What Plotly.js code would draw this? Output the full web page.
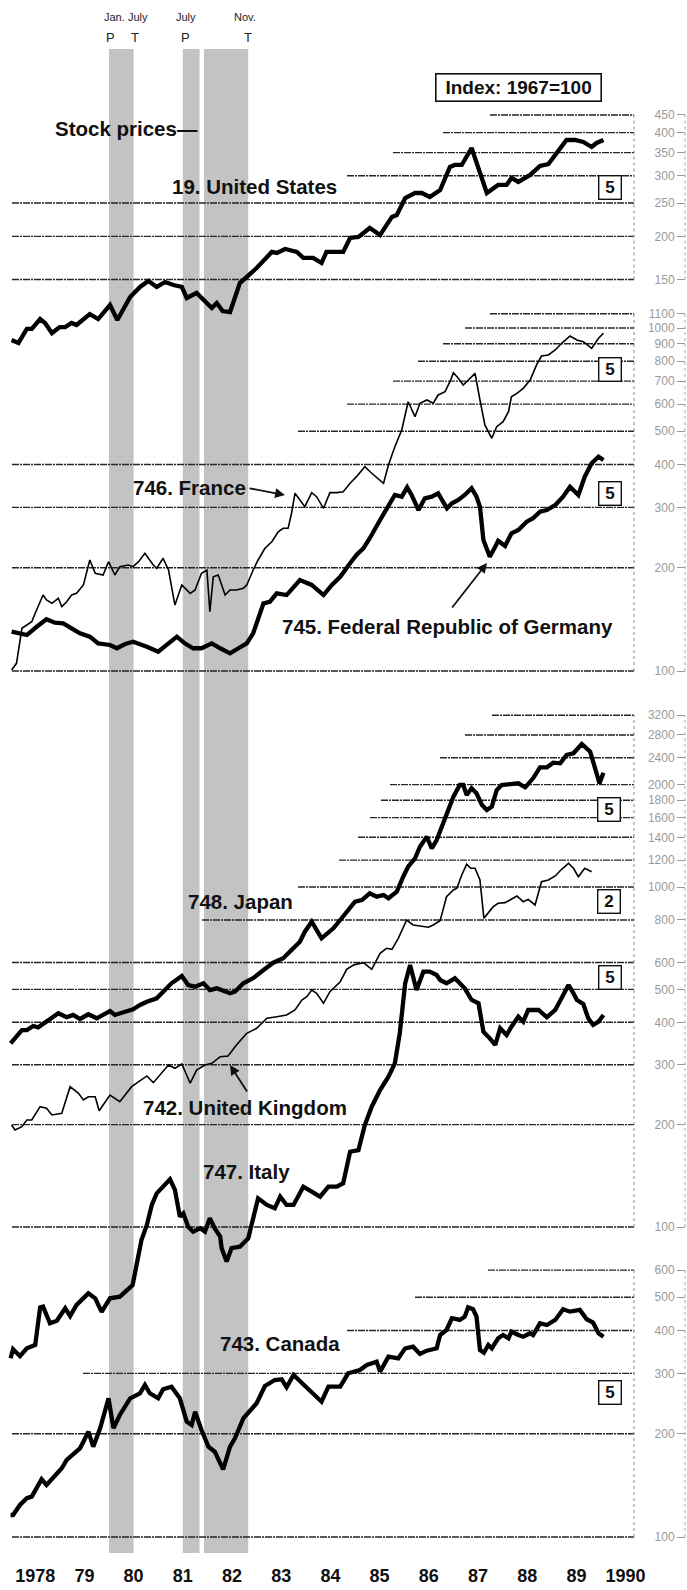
<!DOCTYPE html>
<html>
<head>
<meta charset="utf-8">
<script src="https://cdn.plot.ly/plotly-3.0.1.min.js"></script>
<style>html,body{margin:0;padding:0;background:#fff;}#chart{width:687px;height:1590px;}</style>
</head>
<body>
<div id="chart"></div>
<script>
// ---------------- DATA ----------------
const years = [1978,1979,1980,1981,1982,1983,1984,1985,1986,1987,1988,1989,1990];
const yearLabels = ['1978','79','80','81','82','83','84','85','86','87','88','89','1990'];

// Business-cycle reference dates (P = peak, T = trough)
const peakDates = [1980.0, 1981.5];
const peakMonths = ['Jan.', 'July'];
const troughDates = [1980.5, 1982.83];
const troughMonths = ['July', 'Nov.'];

// 19. United States
const usT = [1978.02,1978.16,1978.33,1978.43,1978.60,1978.70,1978.84,1979.00,1979.11,1979.24,1979.34,1979.61,1979.78,1980.02,1980.17,1980.43,1980.63,1980.80,1980.97,1981.14,1981.31,1981.48,1981.58,1981.78,1982.09,1982.19,1982.31,1982.46,1982.66,1983.00,1983.31,1983.41,1983.58,1983.82,1983.95,1984.15,1984.32,1984.42,1984.56,1984.76,1984.90,1985.07,1985.30,1985.51,1985.75,1985.85,1986.02,1986.22,1986.36,1986.52,1986.73,1986.93,1987.03,1987.17,1987.37,1987.68,1987.91,1988.08,1988.18,1988.32,1988.56,1988.76,1988.93,1989.10,1989.30,1989.47,1989.64,1989.81,1989.91,1990.05];
const usV = [100.1,98.2,107.8,107.8,115.2,112.2,104.9,109.2,109.2,112.2,110.7,119.1,115.2,126.5,114.4,133.5,142.7,148.5,142.7,147.5,144.6,142.7,132.6,137.1,124.0,128.2,121.5,120.7,146.5,162.0,180.3,179.1,183.9,180.3,173.2,173.2,167.5,180.3,180.3,180.3,198.0,199.3,211.6,202.0,227.8,230.8,258.5,267.3,267.3,260.3,272.7,318.0,322.3,322.3,361.0,267.3,282.0,282.0,295.5,287.7,301.5,320.1,324.4,349.1,380.8,380.8,375.7,363.4,373.3,380.8];

// 746. France
const frT = [1978.02,1978.12,1978.23,1978.43,1978.50,1978.60,1978.66,1978.73,1978.84,1978.97,1979.04,1979.14,1979.24,1979.34,1979.48,1979.61,1979.72,1979.88,1979.99,1980.12,1980.22,1980.39,1980.49,1980.60,1980.73,1980.90,1980.97,1981.10,1981.21,1981.34,1981.48,1981.65,1981.75,1981.88,1981.99,1982.05,1982.12,1982.22,1982.36,1982.46,1982.59,1982.73,1982.80,1982.93,1983.03,1983.17,1983.31,1983.44,1983.54,1983.64,1983.71,1983.78,1983.88,1983.98,1984.12,1984.22,1984.36,1984.49,1984.63,1984.76,1984.90,1985.03,1985.20,1985.34,1985.58,1985.68,1985.81,1985.95,1986.08,1986.22,1986.32,1986.46,1986.59,1986.69,1986.83,1986.93,1987.00,1987.10,1987.20,1987.30,1987.44,1987.54,1987.64,1987.78,1987.88,1988.01,1988.12,1988.18,1988.29,1988.42,1988.56,1988.69,1988.79,1988.93,1989.07,1989.20,1989.37,1989.51,1989.64,1989.81,1989.95,1990.05];
const frV = [100.7,105.3,133.2,139.2,147.3,159.2,166.5,161.1,157.5,162.9,154.0,159.2,166.5,168.4,178.2,210.7,192.7,190.5,208.3,190.5,201.4,203.7,201.4,208.3,220.3,203.7,199.3,213.1,197.0,155.7,178.2,168.4,172.3,192.7,197.0,148.9,188.3,190.5,166.5,172.3,172.3,174.2,178.2,197.0,210.7,227.9,238.2,254.7,260.6,260.6,288.3,329.7,315.2,301.3,331.1,322.3,298.1,331.1,331.1,333.3,352.5,368.6,394.1,377.1,352.5,398.6,450.8,504.2,609.7,551.3,603.3,616.7,603.3,637.9,652.2,697.3,740.7,713.6,682.2,705.5,737.6,616.7,521.5,476.9,515.5,533.1,570.2,630.5,645.0,667.1,705.5,780.3,828.6,834.2,862.7,902.5,947.7,922.6,912.3,872.6,933.3,965.0];

// 745. Federal Republic of Germany
const deT = [1978.02,1978.19,1978.33,1978.53,1978.73,1978.90,1979.07,1979.24,1979.41,1979.61,1979.78,1980.02,1980.16,1980.33,1980.49,1980.77,1981.00,1981.21,1981.38,1981.54,1981.71,1981.88,1982.09,1982.26,1982.46,1982.63,1982.80,1982.93,1983.14,1983.27,1983.41,1983.61,1983.88,1984.12,1984.36,1984.53,1984.70,1984.90,1985.03,1985.17,1985.30,1985.51,1985.68,1985.81,1985.95,1986.06,1986.15,1986.29,1986.42,1986.56,1986.69,1986.87,1986.97,1987.10,1987.23,1987.37,1987.47,1987.54,1987.61,1987.74,1987.85,1987.91,1988.05,1988.18,1988.32,1988.49,1988.62,1988.76,1988.90,1989.07,1989.23,1989.37,1989.54,1989.67,1989.81,1989.95,1990.05];
const deV = [130.2,128.8,127.3,134.6,141.5,138.3,137.7,133.2,128.8,125.9,120.4,119.1,116.5,119.9,121.7,117.7,113.8,120.4,125.9,120.4,116.5,116.5,120.4,116.5,112.6,116.5,120.4,128.8,157.5,159.2,168.4,166.5,184.2,178.2,166.5,178.2,188.3,206.1,217.9,227.9,243.8,275.6,301.3,326.0,322.3,343.2,326.0,294.7,318.8,322.3,329.7,298.0,308.3,315.2,326.0,341.0,322.3,301.3,240.9,215.4,230.4,239.8,231.4,252.0,257.7,272.5,278.8,291.4,294.7,304.8,322.3,344.5,326.0,368.6,403.2,421.6,412.4];

// 748. Japan
const jpT = [1978.00,1978.23,1978.33,1978.46,1978.56,1978.77,1978.97,1979.14,1979.27,1979.41,1979.58,1979.75,1980.02,1980.12,1980.29,1980.49,1980.63,1980.77,1980.97,1981.10,1981.27,1981.48,1981.61,1981.75,1981.92,1982.05,1982.19,1982.46,1982.56,1982.73,1982.93,1983.14,1983.34,1983.54,1983.75,1983.88,1983.98,1984.12,1984.32,1984.56,1984.70,1984.86,1985.00,1985.14,1985.30,1985.44,1985.58,1985.68,1985.85,1985.98,1986.08,1986.22,1986.32,1986.46,1986.56,1986.66,1986.79,1986.86,1987.00,1987.13,1987.20,1987.27,1987.37,1987.47,1987.58,1987.68,1987.78,1987.88,1987.98,1988.32,1988.46,1988.62,1988.76,1988.90,1989.03,1989.17,1989.30,1989.44,1989.61,1989.78,1989.88,1989.97,1990.05];
const jpV = [347.0,379.6,379.6,390.0,386.6,404.4,425.2,413.9,420.4,409.1,422.3,411.0,431.8,420.4,426.9,436.8,449.7,459.9,470.6,492.0,521.0,547.3,515.0,509.1,521.0,497.7,503.5,486.8,492.0,521.0,538.9,570.1,598.9,617.0,660.2,690.4,738.8,790.6,706.6,755.9,799.7,855.6,905.1,915.5,958.3,936.5,947.3,926.4,968.7,1072.3,1147.5,1214.6,1313.4,1405.5,1299.3,1375.0,1539.4,1610.2,1843.2,1995.3,1995.3,1864.5,1951.0,1886.1,1742.6,1684.6,1722.6,1928.6,1995.3,2018.4,1964.1,2087.9,2249.4,2249.4,2320.4,2310.9,2444.5,2473,2634,2500,2234,2018,2169];

// 742. United Kingdom
const ukT = [1978.02,1978.09,1978.23,1978.33,1978.43,1978.60,1978.73,1978.84,1979.04,1979.21,1979.38,1979.48,1979.58,1979.72,1979.80,1980.02,1980.12,1980.22,1980.46,1980.56,1980.77,1980.90,1981.04,1981.21,1981.34,1981.48,1981.65,1981.78,1981.95,1982.09,1982.26,1982.42,1982.59,1982.80,1983.00,1983.21,1983.41,1983.61,1983.78,1983.92,1984.02,1984.12,1984.22,1984.36,1984.49,1984.70,1984.83,1984.97,1985.17,1985.34,1985.51,1985.64,1985.75,1985.88,1986.05,1986.18,1986.32,1986.49,1986.59,1986.73,1986.86,1987.00,1987.07,1987.17,1987.27,1987.35,1987.44,1987.54,1987.62,1987.71,1987.81,1987.91,1988.05,1988.15,1988.29,1988.42,1988.52,1988.66,1988.79,1988.93,1989.07,1989.20,1989.34,1989.44,1989.54,1989.67,1989.81];
const ukV = [199.5,192.9,197.2,206.4,206.4,225.9,223.5,213.5,216.0,258.6,247.3,236.3,241.6,241.6,219.8,244.4,239.0,233.6,258.6,264.7,278.1,265.8,280.0,299.6,292.9,301.6,264.7,289.5,299.6,303.0,316.9,318.4,343.0,371.3,384.1,411.0,415.5,420.4,434.8,465.3,475.9,497.7,486.8,454.9,492.0,526.6,572.8,589.7,598.9,572.8,638.3,660.2,655.8,706.6,799.7,773.1,767.9,761.2,773.1,795.9,936.5,979.9,991.3,1084.7,1166.5,1135.2,1135.2,1048.6,808.9,836.8,875.2,895.6,899.3,915.5,940.9,905.1,919.7,885.3,1036.6,1048.6,1077.5,1127.5,1174.1,1135.2,1072.3,1135.2,1109.2];

// 747. Italy
const itT = [1978.00,1978.05,1978.19,1978.33,1978.50,1978.60,1978.66,1978.80,1978.94,1979.11,1979.21,1979.34,1979.58,1979.72,1979.85,1980.02,1980.22,1980.39,1980.48,1980.56,1980.66,1980.77,1980.87,1980.97,1981.10,1981.24,1981.34,1981.44,1981.51,1981.61,1981.71,1981.85,1981.95,1982.05,1982.15,1982.26,1982.29,1982.39,1982.49,1982.66,1982.83,1982.93,1983.03,1983.21,1983.37,1983.48,1983.61,1983.75,1983.95,1984.12,1984.29,1984.46,1984.63,1984.76,1984.90,1985.07,1985.20,1985.34,1985.51,1985.68,1985.81,1985.91,1986.02,1986.12,1986.25,1986.39,1986.52,1986.66,1986.73,1986.86,1987.03,1987.23,1987.37,1987.51,1987.61,1987.74,1987.85,1987.95,1988.08,1988.18,1988.32,1988.42,1988.52,1988.73,1988.90,1989.07,1989.20,1989.34,1989.44,1989.51,1989.64,1989.74,1989.84,1989.95,1990.05];
const itV = [41.1,43.7,41.7,44.0,45.0,58.0,58.3,52.1,53.0,57.7,54.7,59.0,63.8,61.7,56.3,61.7,62.4,65.3,67.5,77.3,91.6,101.4,116.1,125.6,131.4,138.1,128.5,107.2,109.7,100.2,96.9,99.1,96.9,106.1,99.1,93.7,86.6,79.1,86.6,87.5,92.6,104.8,121.4,116.1,113.5,122.8,116.1,116.1,131.4,127.0,122.8,131.4,131.4,134.5,166.5,168.4,199.5,225.9,252.9,276.8,303.0,371.3,521.0,589.7,497.7,563.6,563.6,551.2,532.7,521.0,538.9,503.5,465.3,454.9,375.3,358.9,343.0,384.1,367.0,388.3,415.5,401.8,434.8,434.8,413.9,434.8,470.6,515.0,486.8,465.3,452.8,411.0,392.8,401.8,420.4];

// 743. Canada
const caT = [1978.00,1978.05,1978.19,1978.33,1978.43,1978.63,1978.73,1978.90,1979.04,1979.14,1979.31,1979.41,1979.48,1979.58,1979.68,1979.82,1979.99,1980.09,1980.22,1980.43,1980.63,1980.73,1980.83,1981.00,1981.10,1981.27,1981.44,1981.58,1981.68,1981.75,1981.88,1982.02,1982.15,1982.32,1982.46,1982.56,1982.73,1983.00,1983.17,1983.37,1983.51,1983.61,1983.75,1983.95,1984.15,1984.32,1984.46,1984.70,1984.86,1985.10,1985.24,1985.44,1985.51,1985.68,1985.88,1986.02,1986.18,1986.32,1986.46,1986.66,1986.73,1986.86,1986.97,1987.13,1987.23,1987.30,1987.40,1987.47,1987.54,1987.62,1987.71,1987.78,1987.91,1988.01,1988.12,1988.18,1988.32,1988.42,1988.56,1988.62,1988.76,1988.90,1989.07,1989.23,1989.37,1989.57,1989.71,1989.84,1989.95,1990.05];
const caV = [115.9,115.9,124.0,129.7,131.1,147.3,141.8,151.6,158.6,167.7,177.3,181.4,189.6,202.8,183.4,207.5,253.7,207.5,226.9,253.7,262.4,277.5,262.4,253.7,269.5,274.3,253.7,216.9,212.1,231.9,205.1,183.4,177.3,157.5,183.4,194.0,221.8,245.4,275.6,286.9,288.3,273.2,296.7,279.4,262.4,248.0,274.3,274.3,300.1,306.8,317.3,324.4,303.4,335.6,331.9,354.9,358.8,341.6,349.3,354.9,388.1,401.3,434.2,429.3,438.9,467.5,461.3,438.9,351.0,344.6,362.9,354.9,379.6,388.1,379.6,396.8,388.1,383.7,392.6,388.1,419.8,415.1,429.3,461.3,453.9,459.2,431.3,421.6,392.6,383.7];

// Scale tick labels (Index: 1967=100)
const ticksUS = [150,200,250,300,350,400,450];
const ticksEU = [100,200,300,400,500,600,700,800,900,1000,1100];
const ticksJUI = [100,200,300,400,500,600,800,1000,1200,1400,1600,1800,2000,2400,2800,3200];
const ticksCA = [100,200,300,400,500,600];

// Series names and span boxes
const seriesLabels = ['19. United States','746. France','745. Federal Republic of Germany','748. Japan','742. United Kingdom','747. Italy','743. Canada'];
const spanLabels = ['5','5','5','5','2','5','5'];

// ---------------- LAYOUT / STYLE ----------------
const W = 687, H = 1590;
const X1978 = 10.6, PXY = 49.2;              // pixel of 1978.0, pixels per year
const xr0 = 1978 - X1978 / PXY, xr1 = xr0 + W / PXY;
const FRAME_PX = 634, AXIS_PX = 685;
const SANS = '"Liberation Sans", Arial, "DejaVu Sans", sans-serif';
const px = p => p / W;
const py = p => 1 - p / H;

const panels = [
  {ticks: ticksUS,  cal: [150, 279.5, 344.8], gridStart: [12,12,12,347,393,443,490]},
  {ticks: ticksEU,  cal: [100, 671, 343],     gridStart: [12,12,12,12,298,347,393,418,443,465,490]},
  {ticks: ticksJUI, cal: [100, 1227, 340],    gridStart: [12,12,12,12,12,12,202,298,339,358,370,381,390,440,465,492]},
  {ticks: ticksCA,  cal: [100, 1537, 343],    gridStart: [12,12,83,347,415,488]}
];
const axisIds = ['y','y2','y3','y4'];

function yRange(cal) {
  const [v, p, k] = cal; const l = Math.log10(v);
  return [l - (H - p) / k, l + p / k];
}

const series = [
  {t: usT, v: usV, axis: 'y',  w: 4.3},
  {t: deT, v: deV, axis: 'y2', w: 4.3},
  {t: frT, v: frV, axis: 'y2', w: 1.6},
  {t: jpT, v: jpV, axis: 'y3', w: 4.3},
  {t: itT, v: itV, axis: 'y3', w: 4.3},
  {t: ukT, v: ukV, axis: 'y3', w: 1.6},
  {t: caT, v: caV, axis: 'y4', w: 4.3}
];
const traces = series.map(s => ({
  type: 'scatter', mode: 'lines', x: s.t, y: s.v, yaxis: s.axis, xaxis: 'x',
  line: {color: '#000', width: s.w, shape: 'linear'}, hoverinfo: 'skip', showlegend: false
}));

const shapes = [];
// recession shading (the second band shows a thin light seam in the reference)
const bandTop = py(49), bandBot = py(1553);
const bandPieces = [[peakDates[0], troughDates[0]], [peakDates[1], 1981.84], [1981.93, troughDates[1]]];
bandPieces.forEach(b => shapes.push({type:'rect', xref:'x', yref:'paper', x0:b[0], x1:b[1], y0:bandBot, y1:bandTop,
  fillcolor:'#c3c3c3', line:{width:0}, layer:'below'}));
// grid lines, frame and scale lines (shape y values are data values on these log axes)
panels.forEach((p, i) => {
  const yr = axisIds[i];
  p.ticks.forEach((v, j) => {
    shapes.push({type:'line', xref:'paper', yref:yr, x0:px(p.gridStart[j]), x1:px(FRAME_PX), y0:v, y1:v,
      line:{color:'#262626', width:1.4, dash:'7px,1px,2px,1px'}, layer:'below'});
  });
  const lo = p.ticks[0], hi = p.ticks[p.ticks.length-1];
  shapes.push({type:'line', xref:'paper', yref:yr, x0:px(FRAME_PX), x1:px(FRAME_PX), y0:lo, y1:hi,
    line:{color:'#8a8a8a', width:1, dash:'dot'}, layer:'below'});
  shapes.push({type:'line', xref:'paper', yref:yr, x0:px(AXIS_PX), x1:px(AXIS_PX), y0:lo, y1:hi,
    line:{color:'#a8a8a8', width:1, dash:'dot'}, layer:'below'});
});

const annotations = [];
const bigFont = {family: SANS, size: 20.5, color: '#111', weight: 'bold'};
const smallFont = {family: SANS, size: 11, color: '#222'};
// recession date labels
const monthShift = [5, 3], troughShift = [4, -3];
peakDates.forEach((d, i) => {
  annotations.push({xref:'x', yref:'paper', x:d, y:py(17), text:peakMonths[i], showarrow:false, xshift:monthShift[i],
    font:smallFont, xanchor:'center', yanchor:'middle'});
  annotations.push({xref:'x', yref:'paper', x:d, y:py(38), text:'P', showarrow:false, xshift:i ? 3 : 1,
    font:{family:SANS, size:13, color:'#222'}, xanchor:'center', yanchor:'middle'});
});
troughDates.forEach((d, i) => {
  annotations.push({xref:'x', yref:'paper', x:d, y:py(17), text:troughMonths[i], showarrow:false, xshift:troughShift[i],
    font:smallFont, xanchor:'center', yanchor:'middle'});
  annotations.push({xref:'x', yref:'paper', x:d, y:py(38), text:'T', showarrow:false, xshift:i ? 0 : 1,
    font:{family:SANS, size:13, color:'#222'}, xanchor:'center', yanchor:'middle'});
});
// title-like labels
const labelPos = [[172,186.5],[133,487],[282,626],[188,901],[143,1107.5],[203,1171],[220,1343.5]];
annotations.push({xref:'paper', yref:'paper', x:px(53), y:py(129), text:'Stock prices—', showarrow:false,
  xanchor:'left', yanchor:'middle', font:bigFont});
seriesLabels.forEach((t, i) => annotations.push({xref:'paper', yref:'paper', x:px(labelPos[i][0]-2), y:py(labelPos[i][1]),
  text:t, showarrow:false, xanchor:'left', yanchor:'middle', font:bigFont}));
// index box
annotations.push({xref:'paper', yref:'paper', x:px(518), y:py(88), text:'Index: 1967=100', showarrow:false,
  xanchor:'center', yanchor:'middle', font:{family:SANS, size:19, color:'#111', weight:'bold'},
  width:160, height:22, bordercolor:'#111', borderwidth:1.6, borderpad:2, bgcolor:'#fff'});
// span boxes
const boxPos = [[609.5,187.5],[609.5,370],[609.5,493],[608.5,809],[608.5,901],[609.5,977],[609.5,1392]];
spanLabels.forEach((t, i) => annotations.push({xref:'paper', yref:'paper', x:px(boxPos[i][0]), y:py(boxPos[i][1]),
  text:t, showarrow:false, xanchor:'center', yanchor:'middle', width:19, height:20, borderpad:1,
  bordercolor:'#111', borderwidth:1.4, bgcolor:'#fff', font:{family:SANS, size:17, color:'#111', weight:'bold'}}));
// arrows: [head x, head y, tail dx, tail dy]
const arrows = [[285,495,-37,-7],[487,563,-36,46],[230,1065,18,28]];
arrows.forEach(a => annotations.push({xref:'paper', yref:'paper', x:px(a[0]), y:py(a[1]), ax:a[2], ay:a[3], text:'',
  showarrow:true, arrowhead:2, arrowsize:1.1, arrowwidth:1.8, arrowcolor:'#111'}));

const layout = {
  width: W, height: H,
  margin: {l:0, r:0, t:0, b:0, pad:0},
  paper_bgcolor: '#ffffff', plot_bgcolor: 'rgba(0,0,0,0)',
  showlegend: false, hovermode: false,
  font: {family: SANS, color: '#111'},
  xaxis: {range: [xr0, xr1], domain: [0, 1], anchor: 'free', position: py(1563),
    tickmode: 'array', tickvals: years.map(y => y + 0.5), ticktext: yearLabels,
    ticks: '', showline: false, showgrid: false, zeroline: false, fixedrange: true,
    tickfont: {family: SANS, size: 18, color: '#111', weight: 'bold'}},
  shapes: shapes,
  annotations: annotations
};
panels.forEach((p, i) => {
  const key = i ? 'yaxis' + (i + 1) : 'yaxis';
  const ax = {
    type: 'log', range: yRange(p.cal), anchor: 'free', position: px(AXIS_PX), side: 'left',
    tickmode: 'array', tickvals: p.ticks, ticktext: p.ticks.map(String),
    ticks: 'outside', ticklen: 8, tickwidth: 1, tickcolor: '#9a9a9a',
    showline: false, showgrid: false, zeroline: false, fixedrange: true,
    tickfont: {family: SANS, size: 12, color: '#9a9a9a'}
  };
  if (i) ax.overlaying = 'y'; else ax.domain = [0, 1];
  layout[key] = ax;
});

Plotly.newPlot('chart', traces, layout, {staticPlot: true, displayModeBar: false});
</script>
</body>
</html>
